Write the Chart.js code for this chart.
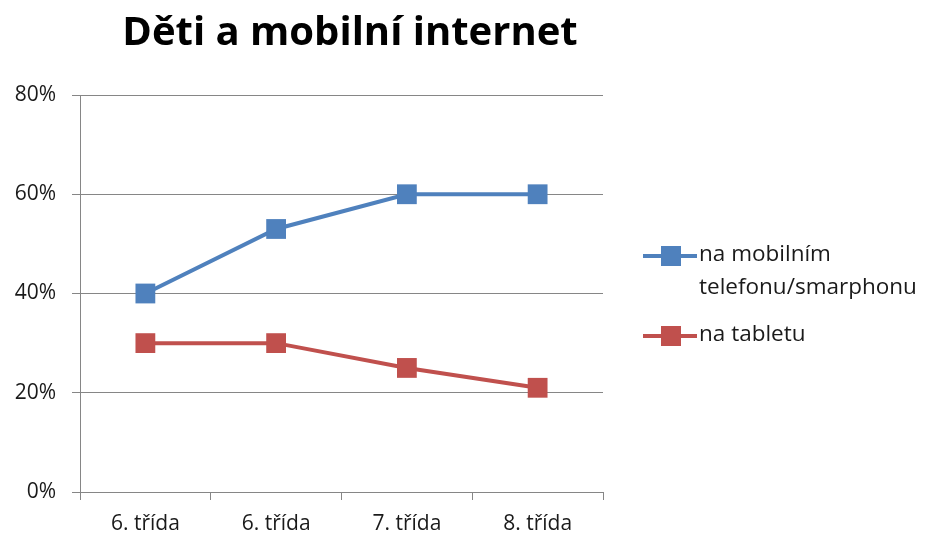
<!DOCTYPE html>
<html>
<head>
<meta charset="utf-8">
<script src="https://cdn.jsdelivr.net/npm/chart.js@4"></script>
<style>
  html, body { margin: 0; padding: 0; background: #fff; }
  #wrap { width: 927px; height: 539px; position: relative; }
</style>
</head>
<body>
<div id="wrap"><canvas id="chart"></canvas></div>
<script>
const labels = ['6. třída', '6. třída', '7. třída', '8. třída'];
const mobil = [0.40, 0.53, 0.60, 0.60];
const tablet = [0.30, 0.30, 0.25, 0.21];
const seriesNames = [['na mobilním', 'telefonu/smarphonu'], ['na tabletu']];
const colors = ['#4F81BD', '#C0504D'];
const FONT = '"Open Sans", "Noto Sans", sans-serif';

// title + right-hand legend, drawn by hand
const extras = {
  id: 'extras',
  afterDraw(chart) {
    const ctx = chart.ctx;
    ctx.save();
    ctx.fillStyle = '#000';
    ctx.font = 'bold 40px ' + FONT;
    ctx.textAlign = 'center';
    ctx.textBaseline = 'middle';
    ctx.fillText('Děti a mobilní internet', 350, 34);

    const rows = [256, 336];
    ctx.font = '22.5px ' + FONT;
    ctx.textAlign = 'left';
    chart.data.datasets.forEach((ds, i) => {
      const y = rows[i];
      ctx.strokeStyle = ds.borderColor;
      ctx.lineWidth = 4;
      ctx.beginPath();
      ctx.moveTo(643, y);
      ctx.lineTo(697, y);
      ctx.stroke();
      ctx.fillStyle = ds.backgroundColor;
      ctx.fillRect(661, y - 10, 20, 20);
      ctx.fillStyle = '#1a1a1a';
      seriesNames[i].forEach((t, j) => ctx.fillText(t, 699, y - 1 + j * 33));
    });
    ctx.restore();
  }
};

new Chart(document.getElementById('chart'), {
  type: 'line',
  data: {
    labels,
    datasets: [
      { data: mobil, borderColor: colors[0], backgroundColor: colors[0] },
      { data: tablet, borderColor: colors[1], backgroundColor: colors[1] }
    ]
  },
  options: {
    responsive: true,
    maintainAspectRatio: false,
    animation: false,
    layout: { padding: { top: 95, right: 324, left: 0, bottom: 0 } },
    elements: {
      line: { borderWidth: 4, tension: 0 },
      point: { pointStyle: 'rect', radius: 14, hoverRadius: 14, borderWidth: 0 }
    },
    plugins: { legend: { display: false }, tooltip: { enabled: false } },
    scales: {
      x: {
        offset: true,
        grid: { offset: true, drawOnChartArea: false, tickLength: 8, color: '#868686', lineWidth: 1 },
        border: { color: '#868686' },
        ticks: { color: '#1a1a1a', font: { family: FONT, size: 21 }, padding: 11, maxRotation: 0 },
        afterFit(s) { s.height = 47; }
      },
      y: {
        min: 0, max: 0.8,
        grid: { color: '#868686', tickLength: 8, lineWidth: 1 },
        border: { color: '#868686' },
        ticks: {
          stepSize: 0.2,
          color: '#1a1a1a',
          font: { family: FONT, size: 21 },
          padding: 16,
          callback: v => Math.round(v * 100) + '%'
        },
        afterFit(s) { s.width = 80; }
      }
    }
  },
  plugins: [extras]
});
</script>
</body>
</html>
